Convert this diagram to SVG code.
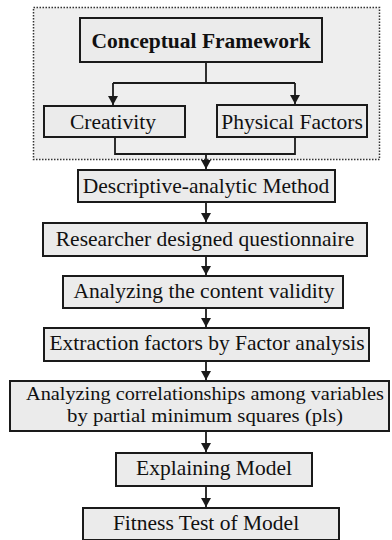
<svg xmlns="http://www.w3.org/2000/svg" width="392" height="540" viewBox="0 0 392 540">
<style>
.box{fill:#ebebeb;stroke:#1a1a1a;stroke-width:2}
.t{font-family:"Liberation Serif","Times New Roman","DejaVu Serif",serif;font-size:21.5px;fill:#111;text-anchor:middle}
.b{font-weight:bold}
.s{font-size:19px}
.c{fill:none;stroke:#1a1a1a;stroke-width:1.8}
</style>
<defs>
<marker id="ah" markerUnits="userSpaceOnUse" markerWidth="10" markerHeight="9" refX="5" refY="9" orient="0" viewBox="0 0 10 9">
<path d="M0,0 L10,0 L5,9 z" fill="#1a1a1a"/>
</marker>
</defs>
<rect width="392" height="540" fill="#ffffff"/>
<g id="frame">
<rect x="33.5" y="7.5" width="346" height="152" fill="#eeeeee" stroke="#333" stroke-width="1.5" stroke-dasharray="1.5,1.5"/>
</g>
<g id="connectors">
<path class="c" d="M206,62 V83"/>
<path class="c" d="M113,83 H295"/>
<path class="c" d="M113,83 V105" marker-end="url(#ah)"/>
<path class="c" d="M295,83 V104" marker-end="url(#ah)"/>
<path class="c" d="M115,137 V154 H295 V137"/>
<path class="c" d="M206,154 V169" marker-end="url(#ah)"/>
<path class="c" d="M206,202 V222" marker-end="url(#ah)"/>
<path class="c" d="M206,256 V275" marker-end="url(#ah)"/>
<path class="c" d="M206,308 V327" marker-end="url(#ah)"/>
<path class="c" d="M206,361 V380" marker-end="url(#ah)"/>
<path class="c" d="M206,431 V452" marker-end="url(#ah)"/>
<path class="c" d="M206,486 V507" marker-end="url(#ah)"/>
</g>
<g id="n-framework">
<rect class="box" x="80" y="18" width="242" height="44"/>
<text class="t b" x="201" y="48">Conceptual Framework</text>
</g>
<g id="n-creativity">
<rect class="box" x="44" y="106" width="141" height="31"/>
<text class="t" x="113" y="129">Creativity</text>
</g>
<g id="n-physical">
<rect class="box" x="217" y="105" width="150" height="32"/>
<text class="t" x="292" y="129">Physical Factors</text>
</g>
<g id="n-descriptive">
<rect class="box" x="78" y="170" width="257" height="32"/>
<text class="t" x="206" y="193">Descriptive-analytic Method</text>
</g>
<g id="n-questionnaire">
<rect class="box" x="43" y="223" width="324" height="33"/>
<text class="t" x="205" y="246">Researcher designed questionnaire</text>
</g>
<g id="n-validity">
<rect class="box" x="63" y="276" width="280" height="32"/>
<text class="t" x="204" y="298">Analyzing the content validity</text>
</g>
<g id="n-extraction">
<rect class="box" x="44" y="328" width="325" height="33"/>
<text class="t" x="207" y="350">Extraction factors by Factor analysis</text>
</g>
<g id="n-correlations">
<rect class="box" x="10" y="381" width="379" height="50"/>
<text class="t s" x="205" y="400" textLength="358" lengthAdjust="spacingAndGlyphs">Analyzing correlationships among variables</text>
<text class="t s" x="205" y="422" textLength="276" lengthAdjust="spacingAndGlyphs">by partial minimum squares  (pls)</text>
</g>
<g id="n-explaining">
<rect class="box" x="116" y="453" width="196" height="33"/>
<text class="t" x="214" y="475">Explaining Model</text>
</g>
<g id="n-fitness">
<rect class="box" x="83" y="508" width="256" height="32"/>
<text class="t" x="206" y="530">Fitness Test of Model</text>
</g>
</svg>
